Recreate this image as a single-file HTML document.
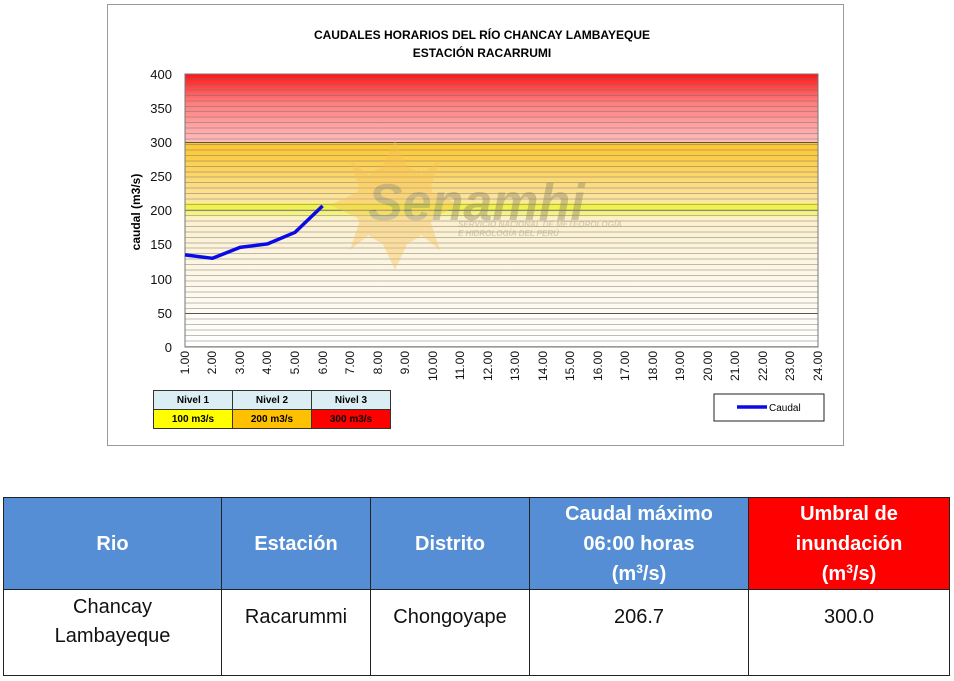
<!DOCTYPE html>
<html><head><meta charset="utf-8"><style>
body{margin:0;width:954px;height:681px;background:#fff;position:relative;overflow:hidden;font-family:"Liberation Sans",Arial,sans-serif}
.a{position:absolute}
#chart{left:107px;top:4px;width:737px;height:442px;border:1px solid #9a9a9a;box-sizing:border-box}
.plot{left:185px;width:633px}
.grid{left:185px;top:74px;width:633px;height:273px;background:repeating-linear-gradient(to top,rgba(110,110,110,.45) 0,rgba(110,110,110,.45) 1px,transparent 1px,transparent 5.46px)}
.maj{left:185px;width:633px;height:1px;background:#555}
.yl{left:140px;width:32px;text-align:right;font-size:13px;color:#111}
.xl{font-size:12px;color:#111;transform:rotate(-90deg);transform-origin:left top;width:34px;text-align:right}
table.lg{position:absolute;left:153px;top:390px;border-collapse:collapse;font-size:10px;font-weight:bold}
table.lg td{border:1px solid #333;width:78px;height:18px;text-align:center;padding:0}
.c{position:absolute;box-sizing:border-box;border:1px solid #222;text-align:center;display:flex;align-items:center;justify-content:center}
.h{top:497px;height:93px;background:#558ed5;color:#fff;font-weight:bold;font-size:20px;line-height:30px}
.b{top:589px;height:87px;font-size:20px;line-height:29px;color:#111;align-items:flex-start;padding-top:3px}
sup{font-size:12px;line-height:0;vertical-align:7px}
</style></head><body>
<div id="chart" class="a"></div>
<div class="a" style="left:107px;top:26px;width:750px;text-align:center;font-size:12px;font-weight:bold;line-height:18px">CAUDALES HORARIOS DEL RÍO CHANCAY LAMBAYEQUE<br>ESTACIÓN RACARRUMI</div>
<div class="a plot" style="top:74px;height:68px;background:linear-gradient(#ff1515,#ff7a7a 40%,#ffbcbc)"></div>
<div class="a plot" style="top:142px;height:61px;background:linear-gradient(#fcc52a,#fdd566 50%,#fde7a8)"></div>
<div class="a plot" style="top:203px;height:14px;background:linear-gradient(#eef040,#f2f25a 50%,#f7f4a8)"></div>
<div class="a plot" style="top:217px;height:130px;background:linear-gradient(#fcefcc,#fdf8ea 50%,#fff)"></div>
<div class="a grid"></div>
<div class="a maj" style="top:142px"></div>
<div class="a maj" style="top:210px;background:#888"></div>
<div class="a maj" style="top:313px"></div>
<svg class="a" style="left:0;top:0" width="954" height="681">
<g opacity="0.4">
<circle cx="395" cy="205" r="40" fill="#f6c050"/>
<g fill="#f6c050">
<polygon points="395,140 410,172 380,172"/><polygon points="395,270 410,238 380,238"/>
<polygon points="330,205 362,190 362,220"/><polygon points="460,205 428,190 428,220"/>
<polygon points="350,160 375,180 360,190"/><polygon points="440,250 415,230 430,220"/>
<polygon points="440,160 415,180 430,190"/><polygon points="350,250 375,230 360,220"/>
</g>
<text x="368" y="220" font-family="Liberation Sans" font-size="52" font-weight="bold" font-style="italic" fill="#8a8060">Senamhi</text>
<text x="458" y="227" font-family="Liberation Sans" font-size="8" font-style="italic" font-weight="bold" fill="#a09a80">SERVICIO NACIONAL DE METEOROLOGÍA</text>
<text x="458" y="236" font-family="Liberation Sans" font-size="8" font-style="italic" font-weight="bold" fill="#a09a80">E HIDROLOGÍA DEL PERÚ</text>
</g>
<rect x="185" y="74" width="633" height="273" fill="none" stroke="#777" stroke-width="1"/>
<polyline points="185,254.9 212.5,258.3 240,247.4 267.6,243.9 295.1,232.3 322.6,205.9" fill="none" stroke="#0a0ae6" stroke-width="3.5" stroke-linejoin="round"/>
<text x="140" y="212" font-size="12" font-weight="bold" transform="rotate(-90 140 212)" text-anchor="middle" font-family="Liberation Sans">caudal (m3/s)</text>
<rect x="714" y="394" width="110" height="27" fill="#fff" stroke="#222"/>
<line x1="737" y1="407" x2="767" y2="407" stroke="#0a0ae6" stroke-width="3.5"/>
<text x="769" y="411" font-size="10" font-family="Liberation Sans">Caudal</text>
</svg>
<div class="a yl" style="top:67px">400</div><div class="a yl" style="top:101px">350</div><div class="a yl" style="top:135px">300</div><div class="a yl" style="top:169px">250</div><div class="a yl" style="top:203px">200</div><div class="a yl" style="top:237px">150</div><div class="a yl" style="top:272px">100</div><div class="a yl" style="top:306px">50</div><div class="a yl" style="top:340px">0</div>
<div class="a xl" style="left:178px;top:385px">1.00</div><div class="a xl" style="left:205px;top:385px">2.00</div><div class="a xl" style="left:233px;top:385px">3.00</div><div class="a xl" style="left:260px;top:385px">4.00</div><div class="a xl" style="left:288px;top:385px">5.00</div><div class="a xl" style="left:316px;top:385px">6.00</div><div class="a xl" style="left:343px;top:385px">7.00</div><div class="a xl" style="left:371px;top:385px">8.00</div><div class="a xl" style="left:398px;top:385px">9.00</div><div class="a xl" style="left:426px;top:385px">10.00</div><div class="a xl" style="left:453px;top:385px">11.00</div><div class="a xl" style="left:481px;top:385px">12.00</div><div class="a xl" style="left:508px;top:385px">13.00</div><div class="a xl" style="left:536px;top:385px">14.00</div><div class="a xl" style="left:563px;top:385px">15.00</div><div class="a xl" style="left:591px;top:385px">16.00</div><div class="a xl" style="left:618px;top:385px">17.00</div><div class="a xl" style="left:646px;top:385px">18.00</div><div class="a xl" style="left:673px;top:385px">19.00</div><div class="a xl" style="left:701px;top:385px">20.00</div><div class="a xl" style="left:728px;top:385px">21.00</div><div class="a xl" style="left:756px;top:385px">22.00</div><div class="a xl" style="left:783px;top:385px">23.00</div><div class="a xl" style="left:811px;top:385px">24.00</div>
<table class="lg"><tr><td style="background:#dbeef4">Nivel 1</td><td style="background:#dbeef4">Nivel 2</td><td style="background:#dbeef4">Nivel 3</td></tr>
<tr><td style="background:#ffff00">100 m3/s</td><td style="background:#ffc000">200 m3/s</td><td style="background:#ff0000">300 m3/s</td></tr></table>
<div class="c h" style="left:3px;width:219px"><span>Rio</span></div>
<div class="c h" style="left:221px;width:150px"><span>Estación</span></div>
<div class="c h" style="left:370px;width:160px"><span>Distrito</span></div>
<div class="c h" style="left:529px;width:220px"><span>Caudal máximo<br>06:00 horas<br>(m<sup>3</sup>/s)</span></div>
<div class="c h" style="left:748px;width:202px;background:#ff0000"><span>Umbral de<br>inundación<br>(m<sup>3</sup>/s)</span></div>
<div class="c b" style="left:3px;width:219px"><span>Chancay<br>Lambayeque</span></div>
<div class="c b" style="left:221px;width:150px;padding-top:13px"><span>Racarummi</span></div>
<div class="c b" style="left:370px;width:160px;padding-top:13px"><span>Chongoyape</span></div>
<div class="c b" style="left:529px;width:220px;padding-top:13px"><span>206.7</span></div>
<div class="c b" style="left:748px;width:202px;padding-top:13px"><span>300.0</span></div>
</body></html>
